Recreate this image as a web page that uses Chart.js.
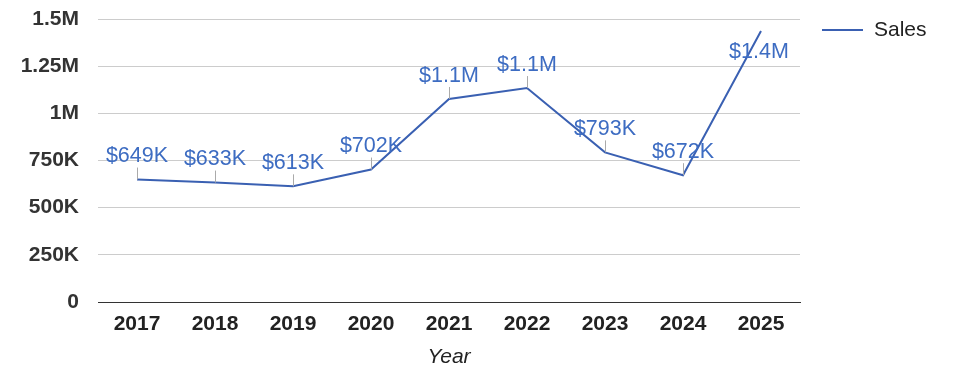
<!DOCTYPE html>
<html>
<head>
<meta charset="utf-8">
<script src="https://cdn.jsdelivr.net/npm/chart.js@4"></script>
<style>
  html, body { margin: 0; padding: 0; background: #fff; }
  #wrap { width: 975px; height: 378px; }
</style>
</head>
<body>
<div id="wrap"><canvas id="chart" width="975" height="378"></canvas></div>
<script>
// chart data
const years = ['2017', '2018', '2019', '2020', '2021', '2022', '2023', '2024', '2025'];
const sales = [649000, 633000, 613000, 702000, 1076000, 1134000, 793000, 672000, 1436000];
const salesLabels = ['$649K', '$633K', '$613K', '$702K', '$1.1M', '$1.1M', '$793K', '$672K', '$1.4M'];
const yTicks = [0, 250000, 500000, 750000, 1000000, 1250000, 1500000];
const yTickLabels = ['0', '250K', '500K', '750K', '1M', '1.25M', '1.5M'];

const FONT = 'Arial, "Liberation Sans", sans-serif';
const LINE_COLOR = '#3a60b2';
const LABEL_COLOR = '#3d6cc2';

// Draws value labels with small stems, and the legend on the right
const labelPlugin = {
    id: 'valueLabels',
    afterDatasetsDraw(chart) {
        const ctx = chart.ctx;
        const meta = chart.getDatasetMeta(0);
        ctx.save();
        ctx.font = '21.5px ' + FONT;
        ctx.textAlign = 'center';
        ctx.textBaseline = 'middle';
        meta.data.forEach((pt, i) => {
            const below = pt.y - 30 < chart.chartArea.top;
            if (!below) {
                ctx.strokeStyle = '#aaaaaa';
                ctx.lineWidth = 1;
                ctx.beginPath();
                ctx.moveTo(Math.round(pt.x) + 0.5, pt.y);
                ctx.lineTo(Math.round(pt.x) + 0.5, pt.y - 12);
                ctx.stroke();
            }
            ctx.fillStyle = LABEL_COLOR;
            const ty = below ? pt.y + 21 : pt.y - 23;
            ctx.fillText(salesLabels[i], pt.x - (below ? 2 : 0), ty);
        });

        // legend
        ctx.strokeStyle = LINE_COLOR;
        ctx.lineWidth = 2;
        ctx.beginPath();
        ctx.moveTo(822, 30);
        ctx.lineTo(863, 30);
        ctx.stroke();
        ctx.fillStyle = '#222';
        ctx.textAlign = 'left';
        ctx.font = '21px ' + FONT;
        ctx.fillText('Sales', 874, 30);
        ctx.restore();
    }
};

new Chart(document.getElementById('chart'), {
    type: 'line',
    data: {
        labels: years,
        datasets: [{
            label: 'Sales',
            data: sales,
            borderColor: LINE_COLOR,
            borderWidth: 2,
            pointRadius: 0,
            tension: 0,
            fill: false
        }]
    },
    options: {
        responsive: false,
        animation: false,
        layout: { padding: { top: 19, right: 175, left: 0, bottom: 0 } },
        plugins: {
            legend: { display: false },
            tooltip: { enabled: false }
        },
        scales: {
            x: {
                offset: true,
                grid: { display: false, drawTicks: false },
                border: { display: true, color: '#333', width: 1 },
                ticks: {
                    color: '#222',
                    padding: 10,
                    maxRotation: 0,
                    font: { family: FONT, size: 21, weight: 'bold' }
                },
                title: {
                    display: true,
                    text: 'Year',
                    color: '#222',
                    padding: { top: 4, bottom: 8 },
                    font: { family: FONT, size: 21, style: 'italic' }
                },
                afterFit(scale) { scale.height = 76; }
            },
            y: {
                min: 0,
                max: 1500000,
                border: { display: false },
                grid: {
                    drawTicks: false,
                    color: ctx => ctx.tick && ctx.tick.value === 0 ? '#333' : '#cccccc'
                },
                afterBuildTicks(scale) {
                    scale.ticks = yTicks.map(v => ({ value: v }));
                },
                ticks: {
                    color: '#333',
                    padding: 19,
                    font: { family: FONT, size: 21, weight: 'bold' },
                    callback: (v) => yTickLabels[yTicks.indexOf(v)]
                },
                afterFit(scale) {
                    scale.width = 98;
                    scale.paddingTop = 0;
                    scale.paddingBottom = 0;
                }
            }
        }
    },
    plugins: [labelPlugin]
});
</script>
</body>
</html>
